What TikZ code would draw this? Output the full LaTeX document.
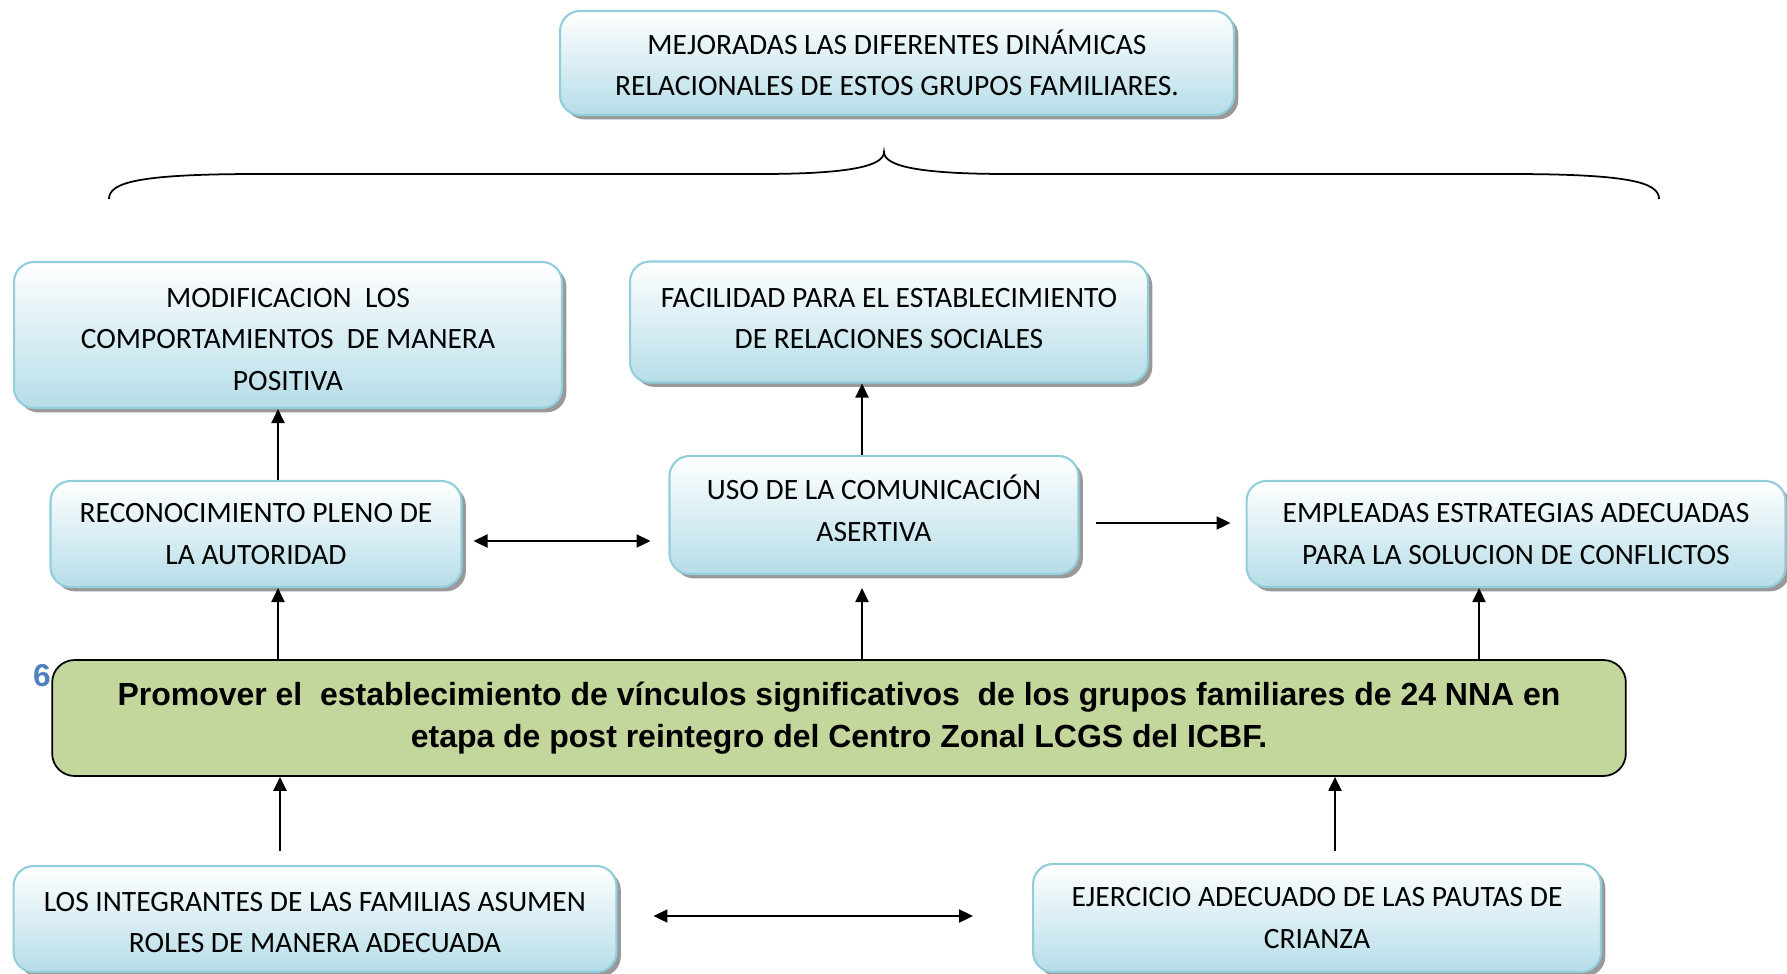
\documentclass[tikz,border=0pt]{standalone}
\usepackage{fontspec}
\setmainfont{Carlito}
\newfontfamily\arialfont{Liberation Sans}
\usetikzlibrary{arrows.meta,shadows}
\definecolor{bordeazul}{HTML}{92CDDC}
\definecolor{fondoazul}{HTML}{B6DDE8}
\definecolor{verdeobj}{HTML}{C3D69B}
\definecolor{azulnum}{HTML}{4F81BD}
\tikzset{
  basenode/.style = {align=center, inner sep=0pt, text centered,
    font=\fontsize{16.8}{23.4}\selectfont},
  caja_r/.style = {basenode, rectangle, rounded corners=0.4cm, draw=bordeazul,
    line width=1.2pt, top color=white, bottom color=fondoazul,
    drop shadow={shadow xshift=2.5pt, shadow yshift=-2.5pt,
      fill=black!40, opacity=1}},% caja resultado, azul
  caja_o/.style = {basenode, rectangle, rounded corners=0.45cm, draw=black,
    line width=1pt, fill=verdeobj,
    font=\arialfont\bfseries\fontsize{18.2}{24}\selectfont},% caja objetivo, verde
  num_o/.style = {basenode, text=azulnum,
    font=\arialfont\bfseries\fontsize{18}{20}\selectfont}% numero
}

\begin{document}
\begin{tikzpicture}[x=0.02cm, y=-0.02cm, ->, >={Triangle[length=0.28cm,width=0.26cm]},
  line width=1.3pt]
\useasboundingbox (0,0) rectangle (1787,973);
\node [caja_r, minimum width=13.48cm, minimum height=2.08cm] (top) at (897,63)
  {MEJORADAS LAS DIFERENTES DINÁMICAS\\RELACIONALES DE ESTOS GRUPOS FAMILIARES.};
\node [caja_r, minimum width=10.96cm, minimum height=2.92cm] (mod) at (288,335)
  {\rule{0pt}{16pt}MODIFICACION\ \ LOS\\COMPORTAMIENTOS\ \ DE MANERA\\POSITIVA};
\node [caja_r, minimum width=10.36cm, minimum height=2.42cm] (fac) at (889,322)
  {FACILIDAD PARA EL ESTABLECIMIENTO\\DE RELACIONES SOCIALES\rule[-3.9pt]{0pt}{3.9pt}};
\node [caja_r, minimum width=8.22cm, minimum height=2.12cm] (rec) at (256,534)
  {RECONOCIMIENTO PLENO DE\\LA AUTORIDAD};
\node [caja_r, minimum width=8.18cm, minimum height=2.36cm] (uso) at (874,515)
  {USO DE LA COMUNICACIÓN\\ASERTIVA\rule[-7.8pt]{0pt}{7.8pt}};
\node [caja_r, minimum width=10.78cm, minimum height=2.12cm] (emp) at (1516,534)
  {EMPLEADAS ESTRATEGIAS ADECUADAS\\PARA LA SOLUCION DE CONFLICTOS};
\node [caja_o, minimum width=31.48cm, minimum height=2.32cm] (obj) at (839,718)
  {Promover el\ \ establecimiento de vínculos significativos\ \ de los grupos familiares de 24 NNA en\\etapa de post reintegro del Centro Zonal LCGS del ICBF.};
\node [num_o] (seis) at (42,676) {6};
\node [caja_r, minimum width=12.06cm, minimum height=2.12cm] (los) at (315,919)
  {\rule{0pt}{14.7pt}LOS INTEGRANTES DE LAS FAMILIAS ASUMEN\\ROLES DE MANERA ADECUADA};
\node [caja_r, minimum width=11.36cm, minimum height=2.16cm] (eje) at (1317,918)
  {EJERCICIO ADECUADO DE LAS PAUTAS DE\\CRIANZA};

% llave
\draw [-, line width=1pt] (109,199) .. controls (109,182) and (140,174) .. (260,174)
  -- (760,174) .. controls (850,174) and (884,166) .. (884,152)
  .. controls (884,166) and (918,174) .. (1008,174) -- (1508,174)
  .. controls (1628,174) and (1659,182) .. (1659,199);

\draw (rec.north -| 278,0) -- (mod.south -| 278,0);
\draw (obj.north -| 278,0) -- (rec.south -| 278,0);
\draw [shorten >=0.26cm] (obj.north -| 862,0) -- (uso.south -| 862,0);
\draw (uso.north -| 862,0) -- (fac.south -| 862,0);
\draw (obj.north -| 1479,0) -- (emp.south -| 1479,0);
\draw [<->, shorten <=0.22cm, shorten >=0.36cm] (rec.east |- 0,541) -- (uso.west |- 0,541);
\draw [shorten <=0.32cm, shorten >=0.3cm] (uso.east |- 0,523) -- (emp.west |- 0,523);
\draw [shorten <=0.28cm] (los.north -| 280,0) -- (obj.south -| 280,0);
\draw [shorten <=0.24cm] (eje.north -| 1335,0) -- (obj.south -| 1335,0);
\draw [<->, shorten <=0.72cm, shorten >=1.18cm] (los.east |- 0,916) -- (eje.west |- 0,916);
\end{tikzpicture}
\end{document}
